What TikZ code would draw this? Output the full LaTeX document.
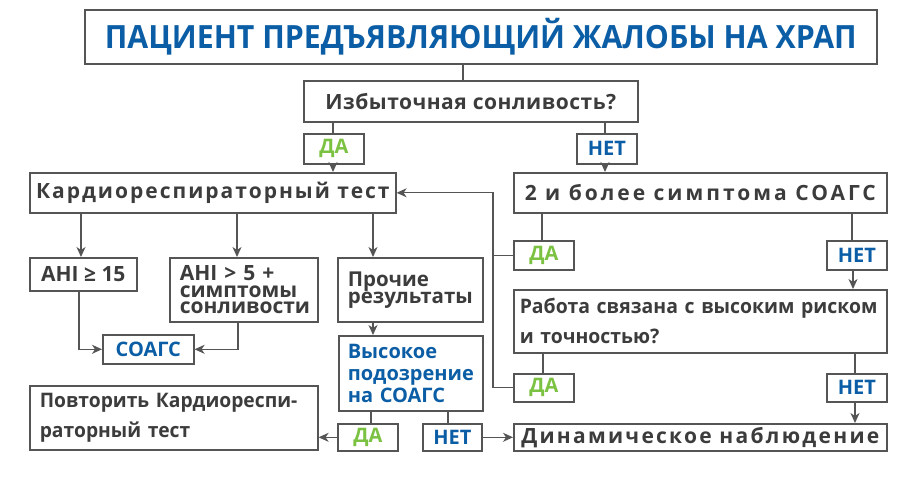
\documentclass[tikz,border=0pt]{standalone}
\usepackage{fontspec}
\setmainfont{Open Sans}
\usetikzlibrary{arrows.meta}
\definecolor{bl}{HTML}{0B5EA5}
\definecolor{gr}{HTML}{7CC242}
\definecolor{tx}{HTML}{3C3C3C}
\definecolor{ln}{HTML}{555555}
\tikzset{
 bx/.style={draw=ln, line width=1.6pt, inner sep=0pt, text=tx, anchor=north west,
   font=\bfseries\fontsize{21}{21}\selectfont},
 lbl/.style={font=\bfseries\fontsize{20}{20}\selectfont},
 lft/.style={align=left, inner xsep=10pt},
 con/.style={draw=ln, line width=1.3pt},
 arr/.style={con, -{Stealth[length=10pt,width=9pt,inset=3pt]}},
}
\begin{document}
\begin{tikzpicture}[x=1pt,y=-1pt]
\useasboundingbox (0,0) rectangle (920,477);
\node[bx, text=bl, font=\bfseries\fontsize{32}{32}\selectfont, minimum width=792pt, minimum height=54pt] (title) at (84,9) {\addfontfeature{FakeStretch=0.946}ПАЦИЕНТ ПРЕДЪЯВЛЯЮЩИЙ ЖАЛОБЫ НА ХРАП};
\node[bx, minimum width=334pt, minimum height=41pt] (q) at (303,80) {\addfontfeature{LetterSpace=2.5}Избыточная сонливость?};
\node[bx, lbl, text=gr, minimum width=60pt, minimum height=30pt] (da1) at (303,133) {ДА};
\node[bx, lbl, text=bl, minimum width=60pt, minimum height=30pt] (net1) at (576,133) {НЕТ};
\node[bx, minimum width=366pt, minimum height=40pt] (kardio) at (29,172) {\addfontfeature{LetterSpace=9.5}Кардиореспираторный тест};
\node[bx, minimum width=373pt, minimum height=40pt] (sym2) at (513,172) {\addfontfeature{LetterSpace=14.3}2 и более симптома СОАГС};
\node[bx, font=\bfseries\fontsize{21}{21}\selectfont, minimum width=107pt, minimum height=33pt] (ahi15) at (29,257) {AHI ≥ 15};
\node[bx, lft, font=\bfseries\fontsize{21}{16.5}\selectfont, text width=128pt, minimum height=64pt] (ahi5) at (169,257) {AHI > 5 +\\симптомы\\сонливости};
\node[bx, lft, font=\bfseries\fontsize{20.5}{17}\selectfont, text width=125pt, minimum height=64pt] (proch) at (337,257) {Прочие\\результаты};
\node[bx, lbl, text=bl, minimum width=91pt, minimum height=29pt] (soags) at (102,334) {СОАГС};
\node[bx, lft, text=bl, font=\bfseries\fontsize{20}{22}\selectfont, inner xsep=9pt, text width=126pt, minimum height=75pt] (vys) at (338,335) {Высокое\\подозрение\\на СОАГС};
\node[bx, lft, font=\bfseries\fontsize{20}{30}\selectfont\addfontfeature{FakeStretch=0.963}, text width=268pt, minimum height=64pt] (povt) at (29,385) {\mbox{Повторить Кардиореспи-}\\раторный тест};
\node[bx, lbl, text=gr, minimum width=60pt, minimum height=27pt] (da4) at (337,423) {ДА};
\node[bx, lbl, text=bl, minimum width=59pt, minimum height=27pt] (net4) at (422,423) {НЕТ};
\node[bx, lbl, text=gr, minimum width=60pt, minimum height=29pt] (da2) at (513,240) {ДА};
\node[bx, lbl, text=bl, minimum width=60pt, minimum height=29pt] (net2) at (826,240) {НЕТ};
\node[bx, lft, font=\bfseries\fontsize{20}{30}\selectfont\addfontfeature{FakeStretch=0.97}, inner xsep=6pt, text width=361pt, minimum height=63pt] (rab) at (513,289) {\mbox{Работа связана с высоким риском}\\и точностью?};
\node[bx, lbl, text=gr, minimum width=60pt, minimum height=28pt] (da3) at (513,373) {ДА};
\node[bx, lbl, text=bl, minimum width=60pt, minimum height=28pt] (net3) at (826,373) {НЕТ};
\node[bx, minimum width=373pt, minimum height=27pt] (dyn) at (513,423) {\addfontfeature{LetterSpace=10.8}Динамическое наблюдение};
\draw[con] (463,0 |- title.south) -- (463,0 |- q.north);
\draw[con] (333,0 |- q.south) -- (333,0 |- da1.north);
\draw[arr] (333,0 |- da1.south) -- (333,0 |- kardio.north);
\draw[con] (605,0 |- q.south) -- (605,0 |- net1.north);
\draw[arr] (605,0 |- net1.south) -- (605,0 |- sym2.north);
\draw[arr] (81,0 |- kardio.south) -- (81,0 |- ahi15.north);
\draw[arr] (237,0 |- kardio.south) -- (237,0 |- ahi5.north);
\draw[arr] (373,0 |- kardio.south) -- (373,0 |- proch.north);
\draw[arr] (79,0 |- ahi15.south) |- (soags.west);
\draw[arr] (238,0 |- ahi5.south) |- (soags.east);
\draw[arr] (373,0 |- proch.south) -- (373,0 |- vys.north);
\draw[con] (371,0 |- vys.south) -- (371,0 |- da4.north);
\draw[con] (448,0 |- vys.south) -- (448,0 |- net4.north);
\draw[arr] (da4.west) -- (povt.east |- da4.west);
\draw[arr] (net4.east) -- (dyn.west |- net4.east);
\draw[con] (542,0 |- sym2.south) -- (542,0 |- da2.north);
\draw[con] (852,0 |- sym2.south) -- (852,0 |- net2.north);
\draw[arr] (853,0 |- net2.south) -- (853,0 |- rab.north);
\draw[con] (543,0 |- rab.south) -- (543,0 |- da3.north);
\draw[con] (855,0 |- rab.south) -- (855,0 |- net3.north);
\draw[arr] (855,0 |- net3.south) -- (855,0 |- dyn.north);
\draw[arr] (da3.west) -| (493,0 |- kardio.east) -- (kardio.east);
\draw[con] (da2.west) -- (493,0 |- da2.west);
\end{tikzpicture}
\end{document}
